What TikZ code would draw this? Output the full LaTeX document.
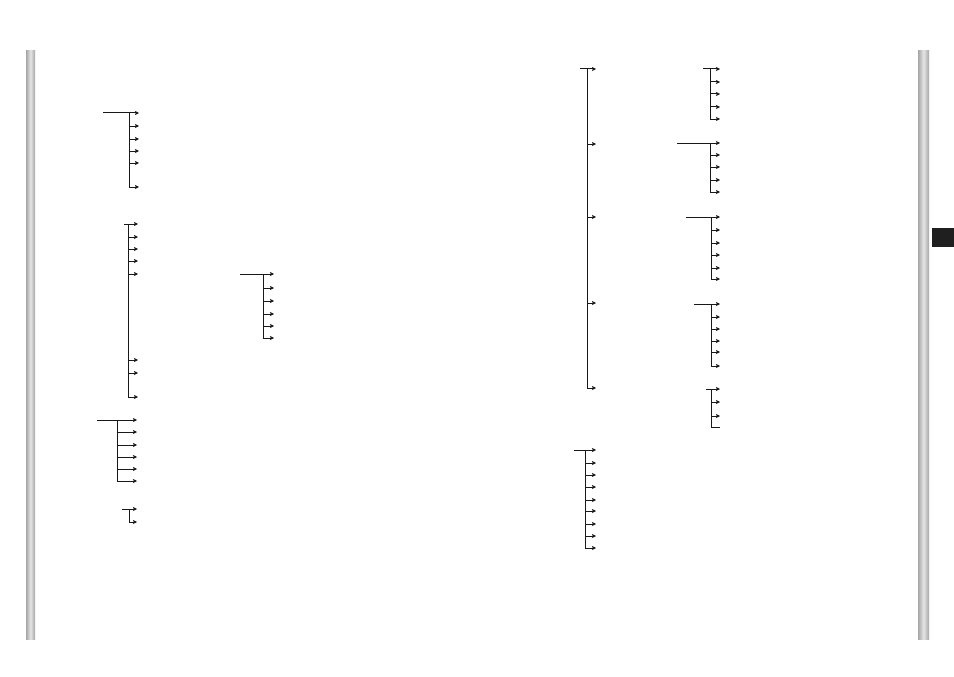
\documentclass[tikz,border=0pt]{standalone}
\usetikzlibrary{arrows.meta}
\tikzset{
  treeline/.style={line width=1pt, black!90},
  treearrow/.style={line width=1pt, black!90, -{Stealth[length=4pt,width=4pt,inset=0.8pt]}},
  sidebar/.style={left color=black!35, right color=black!35, middle color=black!10, draw=none},
}
\newcommand{\drawtree}[6]{% name, xstart, xjunction, xend, count, y list
  \foreach \yy [count=\i] in {#6} {
    \coordinate (#1-j\i) at (#3,\yy);
    \coordinate (#1-e\i) at (#4,\yy);
  }
  \path (#1-j1) ++({#2-#3},0) coordinate (#1-s);
  \draw[treeline] (#1-s) -- (#1-j1);
  \draw[treeline] (#1-j1) -- (#1-j#5);
  \foreach \i in {1,...,#5} { \draw[treearrow] (#1-j\i) -- (#1-e\i); }
}
\begin{document}
\begin{tikzpicture}[x=1pt,y=-1pt]
\useasboundingbox (0,0) rectangle (954,677);
\fill[white] (0,0) rectangle (954,677);
% side bars
\shade[sidebar] (26,51) rectangle (35,639);
\shade[sidebar] (918,51) rectangle (929,639);
\node[fill=black!88, minimum width=22pt, minimum height=19pt, inner sep=0pt, anchor=north west] (tab) at (932,228) {};
% trees
\drawtree{t1}{103}{129}{139}{6}{113,126,139,151,163,187}
\drawtree{t2}{124}{128}{138}{8}{224,237,249,261,274,360,373,397}
\drawtree{t3}{97}{117}{137}{6}{420,432,445,457,469,481}
\drawtree{t4}{122}{129}{137}{2}{509,522}
\drawtree{t5}{240}{263}{274}{6}{274,288,301,314,326,338}
\drawtree{t6}{580}{587}{596}{5}{69,144,217,303,388}
\drawtree{t7}{574}{585}{596}{9}{450,463,475,487,500,511,524,536,548}
\drawtree{t8}{703}{710}{720}{5}{69,82,94,107,119}
\drawtree{t9}{677}{710}{720}{5}{143,155,167,180,192}
\drawtree{t10}{686}{711}{720}{6}{217,230,243,255,268,279}
\drawtree{t11}{694}{711}{720}{6}{304,317,329,341,352,366}
\drawtree{t12}{706}{711}{720}{3}{389,402,416}
\coordinate (t12-j4) at (711,427);
\coordinate (t12-e4) at (720,427);
\draw[treeline] (t12-j3) -- (t12-j4);
\draw[treeline] (t12-j4) -- (t12-e4);
\end{tikzpicture}
\end{document}
